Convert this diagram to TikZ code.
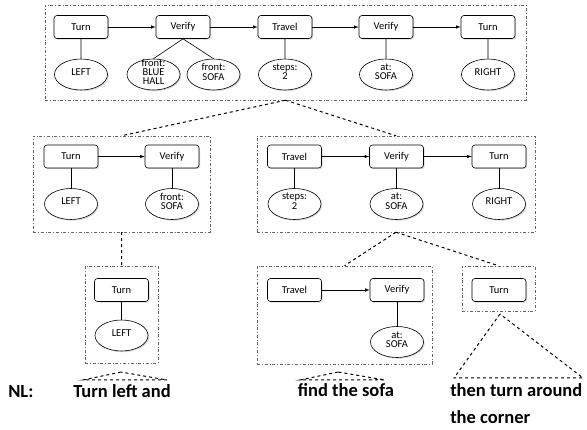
\documentclass[tikz,border=0pt]{standalone}
\usepackage{fontspec}
\setmainfont{Carlito}
\usetikzlibrary{shapes.geometric,shadows}
\newcommand{\argtext}[1]{\raisebox{-2.8pt}{\smash{\renewcommand{\arraystretch}{0.78}\begin{tabular}{@{}c@{}}#1\end{tabular}}}}
\tikzset{
	act/.style={draw, fill=white, rounded corners=3pt, minimum width=54pt, minimum height=23pt, inner sep=0pt,
		font=\fontsize{10.5}{11}\selectfont, drop shadow={shadow xshift=1.2pt, shadow yshift=-1.2pt, opacity=0.3}},
	arg/.style={draw, fill=white, ellipse, minimum width=53pt, minimum height=31pt, inner sep=0pt,
		font=\fontsize{10.5}{11}\selectfont, drop shadow={shadow xshift=1.2pt, shadow yshift=-1.2pt, opacity=0.3}},
	frame/.style={draw=black!60, dash dot, line width=0.5pt, inner sep=0pt},
	link/.style={dashed, line width=1pt},
	nl/.style={font=\fontsize{18.5}{27}\selectfont\bfseries, inner sep=0pt}
}
\begin{document}
\begin{tikzpicture}[x=1pt, y=-1pt, line width=0.6pt]
	\useasboundingbox (0,0) rectangle (587,430);

	\node[frame, minimum width=481pt, minimum height=95pt] at (285.5,52.5)(f0){};
	\node[frame, minimum width=177pt, minimum height=96pt] at (121.5,184)(f1){};
	\node[frame, minimum width=278pt, minimum height=96pt] at (396,184)(f2){};
	\node[frame, minimum width=73pt, minimum height=97pt] at (121.5,314.5)(f3){};
	\node[frame, minimum width=175pt, minimum height=98pt] at (344.5,315)(f4){};
	\node[frame, minimum width=73pt, minimum height=45pt] at (498.5,288.5)(f5){};

	\node[act] at (81,27)(t0){Turn};
	\node[act] at (183,27)(v0){Verify};
	\node[act] at (285,27)(r0){Travel};
	\node[act] at (386,27)(w0){Verify};
	\node[act] at (488,27)(u0){Turn};
	\node[arg] at (81,74.5)(t0a){\argtext{LEFT}};
	\node[arg] at (153.5,74.5)(v0a){\argtext{front:\\BLUE\\HALL}};
	\node[arg] at (213.5,74.5)(v0b){\argtext{front:\\SOFA}};
	\node[arg] at (285,74.5)(r0a){\argtext{steps:\\2}};
	\node[arg] at (386,74.5)(w0a){\argtext{at:\\SOFA}};
	\node[arg] at (488,74.5)(u0a){\argtext{RIGHT}};
	\path[-latex] (t0) edge (v0) (v0) edge (r0) (r0) edge (w0) (w0) edge (u0);
	\draw (t0) -- (t0a) (v0.south) -- (v0a.north) (v0.south) -- (v0b.north)
		(r0) -- (r0a) (w0) -- (w0a) (u0) -- (u0a);

	\node[act] at (71,156.5)(t1){Turn};
	\node[act] at (172,156.5)(v1){Verify};
	\node[arg] at (71,204)(t1a){\argtext{LEFT}};
	\node[arg] at (172,204)(v1a){\argtext{front:\\SOFA}};
	\path[-latex] (t1) edge (v1);
	\draw (t1) -- (t1a) (v1) -- (v1a);

	\node[act] at (294.5,156.5)(r2){Travel};
	\node[act] at (396.5,156.5)(v2){Verify};
	\node[act] at (499,156.5)(t2){Turn};
	\node[arg] at (294.5,204)(r2a){\argtext{steps:\\2}};
	\node[arg] at (396.5,204)(v2a){\argtext{at:\\SOFA}};
	\node[arg] at (499,204)(t2a){\argtext{RIGHT}};
	\path[-latex] (r2) edge (v2) (v2) edge (t2);
	\draw (r2) -- (r2a) (v2) -- (v2a) (t2) -- (t2a);

	\node[act] at (121.5,290)(t3){Turn};
	\node[arg] at (121.5,335.5)(t3a){\argtext{LEFT}};
	\draw (t3) -- (t3a);

	\node[act] at (294.5,290)(r4){Travel};
	\node[act] at (397,290)(v4){Verify};
	\node[arg] at (397,342)(v4a){\argtext{at:\\SOFA}};
	\path[-latex] (r4) edge (v4);
	\draw (v4) -- (v4a);

	\node[act] at (499,290)(t5){Turn};

	\draw[link] (f0.south) -- (f1.north) (f0.south) -- (f2.north) (f1.south) -- (f3.north)
		(f2.south) -- (f4.north) (f2.south) -- (f5.north);

	\coordinate (p3) at (121,372);
	\coordinate (p4) at (338,372);
	\coordinate (p5) at (500,314);
	\draw[link] (p3) -- (83,380) -- (167,380) -- cycle;
	\draw[link] (p4) -- (300,380) -- (385,380) -- cycle;
	\draw[link] (p5) -- (454,378) -- (583,378) -- cycle;

	\node[nl, anchor=base west] at (8,398)(nl){NL:};
	\node[nl, anchor=base] at (122,398)(s3){Turn left and};
	\node[nl, anchor=base] at (346,397)(s4){find the sofa};
	\node[nl, anchor=base west, align=left] at (450,424)(s5){then turn around\\the corner};
\end{tikzpicture}
\end{document}
